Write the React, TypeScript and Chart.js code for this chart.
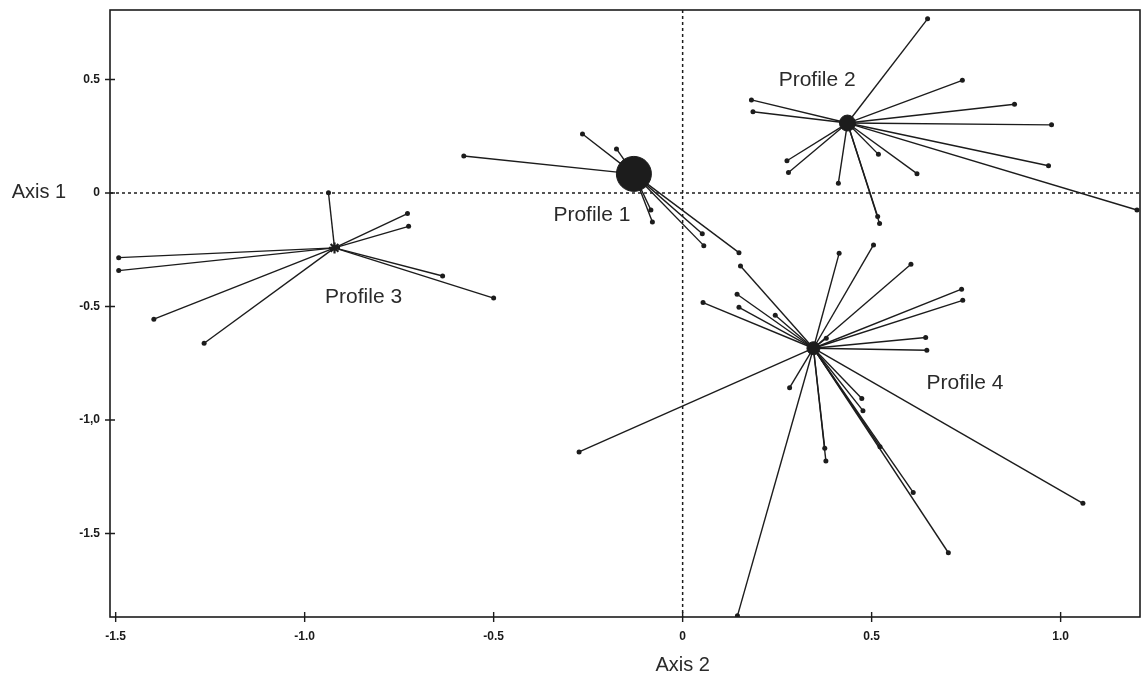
import React, { useEffect, useRef } from "react";
import { Chart, registerables } from "chart.js";

Chart.register(...registerables);

// ---- Axis ticks ----
const xTickValues = [-1.5, -1.0, -0.5, 0, 0.5, 1.0];
const xTickLabels = ["-1.5", "-1.0", "-0.5", "0", "0.5", "1.0"];
const yTickValues = [-1.5, -1.0, -0.5, 0, 0.5];
const yTickLabels = ["-1.5", "-1,0", "-0.5", "0", "0.5"];

// ---- Profiles (centroids) ----
const profileNames = ["Profile 1", "Profile 2", "Profile 3", "Profile 4"];
const centroidX = [-0.129, 0.436, -0.921, 0.346];
const centroidY = [0.084, 0.308, -0.242, -0.684];

// ---- Spoke end points per profile ----
const p1EndX = [-0.265, -0.175, -0.579, -0.084, -0.08, 0.052, 0.056, 0.149];
const p1EndY = [0.26, 0.194, 0.163, -0.075, -0.128, -0.18, -0.232, -0.263];

const p2EndX = [0.648, 0.74, 0.878, 0.976, 0.968, 1.202, 0.62, 0.518, 0.521, 0.516, 0.412, 0.276, 0.28, 0.182, 0.186];
const p2EndY = [0.767, 0.496, 0.391, 0.3, 0.12, -0.075, 0.085, 0.17, -0.135, -0.104, 0.043, 0.142, 0.09, 0.41, 0.358];

const p3EndX = [-0.937, -1.492, -1.492, -1.399, -1.266, -0.728, -0.725, -0.635, -0.5];
const p3EndY = [0.001, -0.285, -0.342, -0.556, -0.662, -0.091, -0.147, -0.366, -0.463];

const p4EndX = [0.414, 0.505, 0.604, 0.738, 0.741, 0.643, 0.646, 0.38, 0.153, 0.144, 0.149, 0.054, 0.245, 0.283, 0.474, 0.477, 0.376, 0.379, 0.61, 0.522, 0.703, 1.059, -0.274, 0.145];
const p4EndY = [-0.266, -0.229, -0.314, -0.424, -0.473, -0.637, -0.693, -0.64, -0.322, -0.446, -0.504, -0.483, -0.539, -0.858, -0.905, -0.959, -1.125, -1.181, -1.319, -1.118, -1.585, -1.367, -1.141, -1.863];

// ---- Annotation anchors (data coordinates) ----
const labelAnchorX = [-0.24, 0.356, -0.844, 0.747];
const labelAnchorY = [-0.097, 0.498, -0.459, -0.837];

const endsX = [p1EndX, p2EndX, p3EndX, p4EndX];
const endsY = [p1EndY, p2EndY, p3EndY, p4EndY];

const INK = "#1c1c1c";
const FONT = "'Liberation Sans', Arial, sans-serif";
const centroidRadius = [17.5, 8, 5.5, 6.5];
const centroidStyle = ["circle", "circle", "star", "circle"];
// extra canvas margin (hidden) so large markers don't force layout padding
const M = 30;

export default function App() {
  const canvasRef = useRef<HTMLCanvasElement | null>(null);

  useEffect(() => {
    const canvas = canvasRef.current;
    if (!canvas) return;

    const datasets: any[] = [];
    // centroids first so they are drawn on top
    centroidX.forEach((cx, i) => {
      datasets.push({
        label: profileNames[i],
        data: [{ x: cx, y: centroidY[i] }],
        showLine: false,
        pointRadius: centroidRadius[i],
        pointHoverRadius: centroidRadius[i],
        pointStyle: centroidStyle[i],
        pointBackgroundColor: INK,
        pointBorderColor: INK,
        pointBorderWidth: centroidStyle[i] === "star" ? 2.2 : 1,
      });
    });
    centroidX.forEach((cx, i) => {
      endsX[i].forEach((ex, j) => {
        datasets.push({
          label: profileNames[i] + " " + j,
          data: [
            { x: cx, y: centroidY[i] },
            { x: ex, y: endsY[i][j] },
          ],
          showLine: true,
          borderColor: INK,
          borderWidth: 1.4,
          pointRadius: [0, 2.5],
          pointHoverRadius: [0, 2.5],
          pointBackgroundColor: INK,
          pointBorderColor: INK,
          pointBorderWidth: 0,
        });
      });
    });

    const decor = {
      id: "decor",
      beforeDatasetsDraw(chart: any) {
        const { ctx, chartArea: a, scales } = chart;
        const x0 = scales.x.getPixelForValue(0);
        const y0 = scales.y.getPixelForValue(0);
        ctx.save();
        ctx.strokeStyle = INK;
        ctx.lineWidth = 1.5;
        ctx.setLineDash([3, 3]);
        ctx.beginPath();
        ctx.moveTo(x0, a.top);
        ctx.lineTo(x0, a.bottom);
        ctx.moveTo(a.left, y0);
        ctx.lineTo(a.right, y0);
        ctx.stroke();
        ctx.restore();
      },
      afterDatasetsDraw(chart: any) {
        const { ctx, chartArea: a, scales } = chart;
        ctx.save();
        // frame
        ctx.strokeStyle = INK;
        ctx.lineWidth = 1.6;
        ctx.setLineDash([]);
        ctx.strokeRect(a.left, a.top, a.right - a.left, a.bottom - a.top);
        // tick crosses
        ctx.lineWidth = 1.4;
        ctx.beginPath();
        xTickValues.forEach((v) => {
          const px = scales.x.getPixelForValue(v);
          ctx.moveTo(px, a.bottom - 5);
          ctx.lineTo(px, a.bottom + 5);
        });
        yTickValues.forEach((v) => {
          const py = scales.y.getPixelForValue(v);
          ctx.moveTo(a.left - 5, py);
          ctx.lineTo(a.left + 5, py);
        });
        ctx.stroke();
        // profile labels
        ctx.fillStyle = "#2a2a2a";
        ctx.font = "21px " + FONT;
        ctx.textAlign = "center";
        ctx.textBaseline = "middle";
        profileNames.forEach((n, i) => {
          ctx.fillText(
            n,
            scales.x.getPixelForValue(labelAnchorX[i]),
            scales.y.getPixelForValue(labelAnchorY[i])
          );
        });
        // axis titles
        ctx.font = "20px " + FONT;
        ctx.fillText("Axis 1", 39, scales.y.getPixelForValue(0));
        ctx.fillText("Axis 2", scales.x.getPixelForValue(0), a.bottom + 48);
        ctx.restore();
      },
    };

    const chart = new Chart(canvas, {
      type: "scatter",
      data: { datasets },
      options: {
        animation: false,
        responsive: true,
        maintainAspectRatio: false,
        layout: { padding: { top: 10 + M, right: 2 + M, left: 0, bottom: 0 } },
        plugins: { legend: { display: false }, tooltip: { enabled: false } },
        events: [],
        scales: {
          x: {
            type: "linear",
            min: -1.515,
            max: 1.21,
            grid: { display: false, drawTicks: false, tickLength: 0 },
            border: { display: false },
            afterBuildTicks: (s: any) => {
              s.ticks = xTickValues.map((v) => ({ value: v }));
            },
            afterFit: (s: any) => {
              s.height = 62;
            },
            ticks: {
              autoSkip: false,
              maxRotation: 0,
              padding: 12,
              color: "#1a1a1a",
              font: { size: 12, weight: "bold", family: FONT },
              callback: (v: any) => {
                const i = xTickValues.findIndex((t) => Math.abs(t - Number(v)) < 1e-6);
                return i >= 0 ? xTickLabels[i] : "";
              },
            },
          },
          y: {
            type: "linear",
            min: -1.868,
            max: 0.806,
            grid: { display: false, drawTicks: false, tickLength: 0 },
            border: { display: false },
            afterBuildTicks: (s: any) => {
              s.ticks = yTickValues.map((v) => ({ value: v }));
            },
            afterFit: (s: any) => {
              s.width = 110;
            },
            ticks: {
              autoSkip: false,
              padding: 10,
              color: "#1a1a1a",
              font: { size: 12, weight: "bold", family: FONT },
              callback: (v: any) => {
                const i = yTickValues.findIndex((t) => Math.abs(t - Number(v)) < 1e-6);
                return i >= 0 ? yTickLabels[i] : "";
              },
            },
          },
        },
      },
      plugins: [decor],
    } as any);

    return () => chart.destroy();
  }, []);

  return (
    <div style={{ position: "fixed", left: 0, top: 0, width: 1142, height: 679, overflow: "hidden", background: "#fff" }}>
      <div style={{ position: "absolute", left: 0, top: -M, width: 1142 + M, height: 679 + M }}>
        <canvas ref={canvasRef} />
      </div>
    </div>
  );
}
